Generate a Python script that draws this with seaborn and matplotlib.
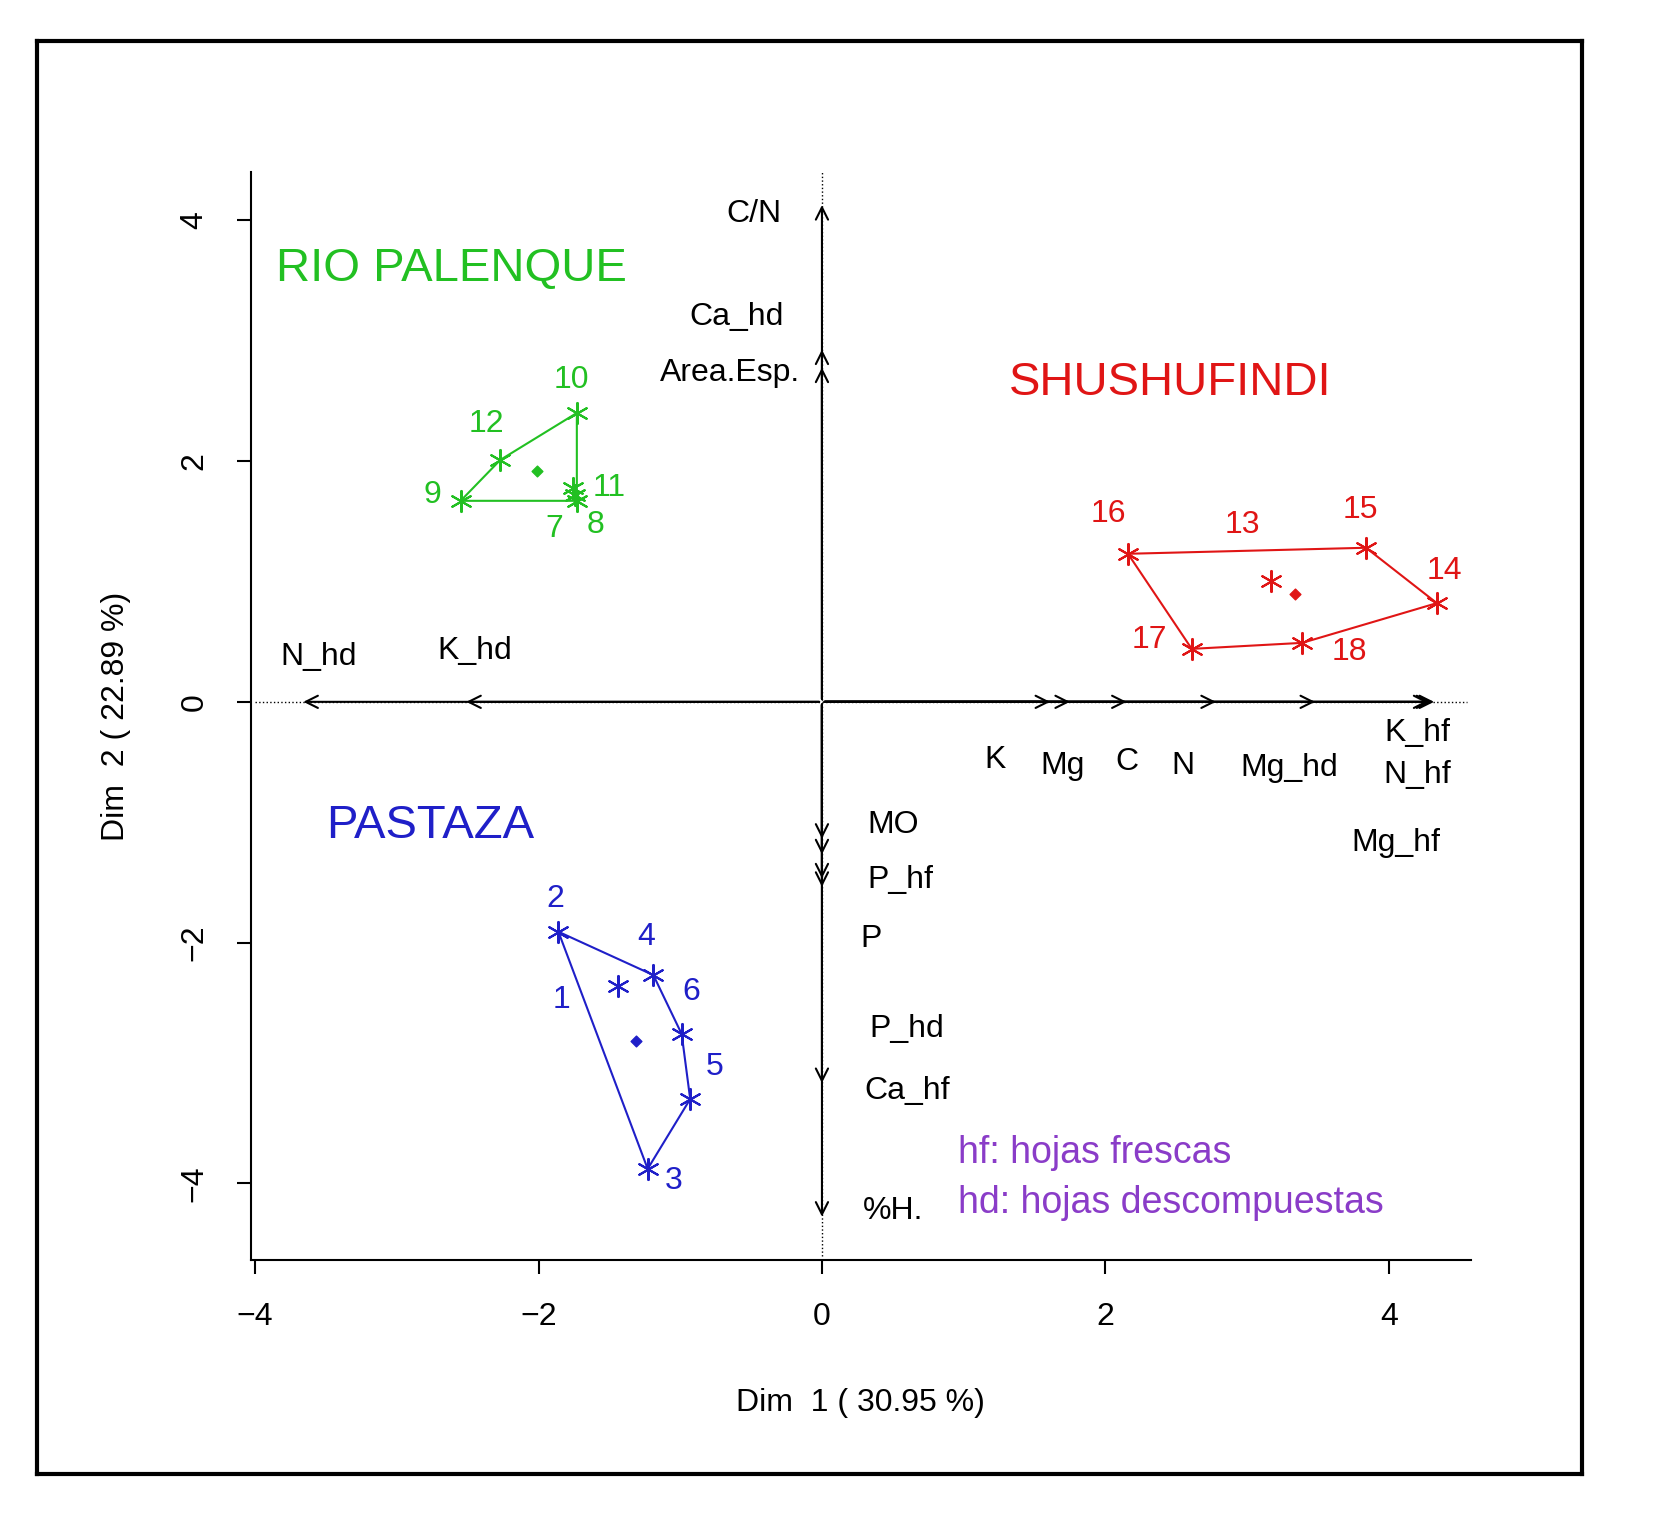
import matplotlib
matplotlib.use("Agg")
import matplotlib.pyplot as plt
import pandas as pd
import seaborn as sb

sb.set_style("white")
plt.rcParams['font.family'] = ['Liberation Sans', 'DejaVu Sans']
plt.rcParams['text.color'] = 'black'
plt.rcParams['xtick.color'] = 'black'
plt.rcParams['ytick.color'] = 'black'
plt.rcParams['axes.labelcolor'] = 'black'

# individuals (Dim1, Dim2)
ind = pd.DataFrame({
    "id": [1, 2, 3, 4, 5, 6, 7, 8, 9, 10, 11, 12, 13, 14, 15, 16, 17, 18],
    "x": [-1.44, -1.86, -1.23, -1.19, -0.93, -0.99, -1.74, -1.73, -2.55, -1.73, -1.76, -2.27,
          3.17, 4.34, 3.84, 2.16, 2.61, 3.39],
    "y": [-2.36, -1.91, -3.88, -2.27, -3.30, -2.76, 1.72, 1.67, 1.67, 2.40, 1.78, 2.01,
          1.00, 0.82, 1.28, 1.23, 0.44, 0.49],
    "site": ["PASTAZA"] * 6 + ["RIO PALENQUE"] * 6 + ["SHUSHUFINDI"] * 6,
})
colors = {"PASTAZA": "#1f1fc8", "RIO PALENQUE": "#22c022", "SHUSHUFINDI": "#e01515"}
hulls = {"PASTAZA": [2, 4, 6, 5, 3, 2], "RIO PALENQUE": [9, 12, 10, 8, 9],
         "SHUSHUFINDI": [16, 15, 14, 18, 17, 16]}
centers = {"PASTAZA": (-1.31, -2.82), "RIO PALENQUE": (-2.01, 1.92), "SHUSHUFINDI": (3.34, 0.90)}
lab_off = {1: (-0.4, -0.12), 2: (-0.02, 0.27), 3: (0.18, -0.1), 4: (-0.05, 0.32), 5: (0.17, 0.27),
           6: (0.07, 0.35), 7: (-0.15, -0.28), 8: (0.13, -0.2), 9: (-0.2, 0.05), 10: (-0.04, 0.27),
           11: (0.26, 0.0), 12: (-0.1, 0.3), 13: (-0.2, 0.47), 14: (0.05, 0.27), 15: (-0.04, 0.31),
           16: (-0.14, 0.33), 17: (-0.3, 0.07), 18: (0.33, -0.08)}
site_text = {"PASTAZA": (-3.5, -1.03), "RIO PALENQUE": (-3.85, 3.6), "SHUSHUFINDI": (1.32, 2.65)}

fig = plt.figure(figsize=(16.62, 15.24), dpi=100)
border = fig.add_axes([0.022, 0.033, 0.93, 0.94])
border.set_xticks([]); border.set_yticks([])
for s in border.spines.values():
    s.set_linewidth(3); s.set_color("black")
ax = fig.add_axes([0.151, 0.173, 0.734, 0.714])
ax.patch.set_alpha(0)

for site, g in ind.groupby("site"):
    c = colors[site]
    sb.scatterplot(data=g, x="x", y="y", marker=(6, 2, 0), s=230, color=c, linewidth=1.5, ax=ax)
    h = g.set_index("id").loc[hulls[site]]
    ax.plot(h["x"], h["y"], color=c, lw=1.5)
    ax.scatter(*centers[site], marker="D", s=30, color=c)
    for _, r in g.iterrows():
        dx, dy = lab_off[r["id"]]
        ax.text(r["x"] + dx, r["y"] + dy, str(r["id"]), color=c, fontsize=23, ha="center", va="center")
    tx, ty = site_text[site]
    ax.text(tx, ty, site, color=c, fontsize=34, ha="left", va="center")

# variable arrows (projection on axes)
arrows = [
    (-3.68, 0, "N_hd", -3.55, 0.37), (-2.53, 0, "K_hd", -2.45, 0.42),
    (1.63, 0, "K", 1.22, -0.48), (1.77, 0, "Mg", 1.7, -0.53), (2.17, 0, "C", 2.15, -0.5),
    (2.80, 0, "N", 2.55, -0.53), (3.50, 0, "Mg_hd", 3.3, -0.55), (4.30, 0, "K_hf", 4.2, -0.26),
    (4.34, 0, "N_hf", 4.2, -0.61), (4.32, 0, "Mg_hf", 4.05, -1.17),
    (0, 4.15, "C/N", -0.48, 4.05), (0, 2.95, "Ca_hd", -0.6, 3.2), (0, 2.80, "Area.Esp.", -0.65, 2.73),
    (0, -1.16, "MO", 0.5, -1.02), (0, -1.29, "", 0, 0), (0, -1.56, "P_hf", 0.55, -1.48),
    (0, -1.49, "", 0, 0), (0, -3.19, "Ca_hf", 0.6, -3.23), (0, -4.30, "%H.", 0.5, -4.23),
]
for x, y, lab, lx, ly in arrows:
    ax.annotate("", xy=(x, y), xytext=(0, 0),
                arrowprops=dict(arrowstyle="->", lw=1.5, color="black", mutation_scale=22))
    if lab:
        ax.text(lx, ly, lab, fontsize=23, ha="center", va="center")
ax.text(0.35, -1.97, "P", fontsize=23, ha="center", va="center")
ax.text(0.6, -2.72, "P_hd", fontsize=23, ha="center", va="center")
ax.plot([-4.0, 0], [0, 0], ls=":", color="black", lw=1)
ax.plot([0, 4.55], [0, 0], ls=":", color="black", lw=1)
ax.plot([0, 0], [-4.6, 4.4], ls=":", color="black", lw=1)

ax.text(0.96, -3.83, "hf: hojas frescas", color="#8a3cc8", fontsize=27)
ax.text(0.96, -4.25, "hd: hojas descompuestas", color="#8a3cc8", fontsize=27)

ax.set_xlim(-4.03, 4.58)
ax.set_ylim(-4.64, 4.40)
ax.set_xticks([-4, -2, 0, 2, 4])
ax.set_yticks([-4, -2, 0, 2, 4])
ax.set_xticklabels(["\u22124", "\u22122", "0", "2", "4"])
ax.set_yticklabels(["\u22124", "\u22122", "0", "2", "4"], rotation=90, va="center")
ax.tick_params(labelsize=23, length=10, width=1.5, left=True, bottom=True, pad=20)
sb.despine(ax=ax)
for s in ["left", "bottom"]:
    ax.spines[s].set_linewidth(1.5); ax.spines[s].set_color("black")
ax.set_xlabel("Dim  1 ( 30.95 %)", fontsize=23, labelpad=40)
ax.set_ylabel("Dim  2 ( 22.89 %)", fontsize=23, labelpad=35)

fig.savefig("out.png", dpi=100)
